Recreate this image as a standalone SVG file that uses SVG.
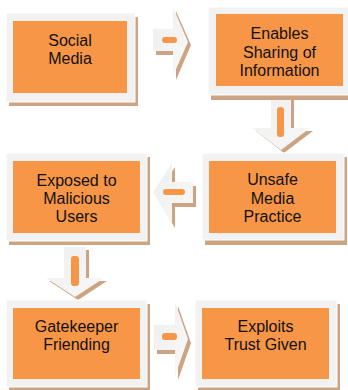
<svg xmlns="http://www.w3.org/2000/svg" width="348" height="390" viewBox="0 0 348 390">
  <style>
    .shadow { fill: #CDA483; }
    .frame { fill: #F2F2F2; stroke: #FFFFFF; stroke-width: 1; }
    .fill { fill: #F79646; }
    .label { font-family: "Liberation Sans", Arial, sans-serif; font-size: 16px; fill: #111111; text-anchor: middle; }
    .arrow { fill: url(#arrowShade); }
    .arrow-shadow { fill: #CDA483; }
    .dash { fill: #F79646; }
  </style>
  <defs>
    <linearGradient id="arrowShade" x1="0" y1="0" x2="1" y2="1">
      <stop offset="0" stop-color="#EEEEEE"/>
      <stop offset="1" stop-color="#F9F9F9"/>
    </linearGradient>
  </defs>
  <rect width="348" height="390" fill="#FFFFFF"/>

  <!-- connectors: block arrows with an orange centre stroke -->
  <g id="connectors">
    <!-- Social Media -> Enables Sharing -->
    <g id="arrow-1">
      <polygon class="arrow-shadow" points="156,33 176,33 176,11 191,45 176,80 176,55 156,55"/>
      <polygon class="arrow" points="153,29 173,29 173,7 188,42 173,76 173,51 153,51"/>
      <rect class="dash" x="162" y="37" width="15" height="6" rx="3"/>
    </g>
    <!-- Enables Sharing -> Unsafe Media Practice -->
    <g id="arrow-2">
      <polygon class="arrow-shadow" points="274,99 294,99 294,131 313,131 284,153 256,131 274,131"/>
      <polygon class="arrow" points="271,96 291,96 291,128 310,128 281,150 252,128 271,128"/>
      <rect class="dash" x="277" y="107" width="7" height="30" rx="3"/>
    </g>
    <!-- Unsafe Media Practice -> Exposed to Malicious Users -->
    <g id="arrow-3">
      <polygon class="arrow-shadow" points="196,186 175,186 175,167 156,196 175,228 175,207 196,207"/>
      <polygon class="arrow" points="193,182 172,182 172,163 153,192 172,224 172,203 193,203"/>
      <rect class="dash" x="163" y="189" width="22" height="6" rx="3"/>
    </g>
    <!-- Exposed to Malicious Users -> Gatekeeper Friending -->
    <g id="arrow-4">
      <polygon class="arrow-shadow" points="67,250 89,250 89,281 107,281 78,300 49,281 67,281"/>
      <polygon class="arrow" points="64,247 86,247 86,278 104,278 75,297 46,278 64,278"/>
      <rect class="dash" x="71" y="256" width="8" height="30" rx="3"/>
    </g>
    <!-- Gatekeeper Friending -> Exploits Trust Given -->
    <g id="arrow-5">
      <polygon class="arrow-shadow" points="157,329 178,329 178,306 191,343 178,380 178,354 157,354"/>
      <polygon class="arrow" points="154,325 175,325 175,302 188,339 175,376 175,350 154,350"/>
      <rect class="dash" x="162" y="333" width="15" height="7" rx="3"/>
    </g>
  </g>

  <!-- process steps -->
  <g id="node-social-media">
    <rect class="shadow" x="9" y="17" width="129" height="89"/>
    <rect class="frame" x="6" y="13" width="129" height="89"/>
    <rect class="fill" x="13" y="21" width="114" height="72"/>
    <text class="label" x="70" y="46">Social</text>
    <text class="label" x="70" y="64">Media</text>
  </g>

  <g id="node-enables-sharing">
    <rect class="shadow" x="211" y="11" width="143" height="89"/>
    <rect class="frame" x="208" y="7" width="143" height="88"/>
    <rect class="fill" x="216" y="14" width="127" height="72"/>
    <text class="label" x="279.5" y="39">Enables</text>
    <text class="label" x="279.5" y="57.5">Sharing of</text>
    <text class="label" x="279.5" y="76">Information</text>
  </g>

  <g id="node-exposed">
    <rect class="shadow" x="9" y="157" width="141" height="88"/>
    <rect class="frame" x="6" y="153" width="141" height="88"/>
    <rect class="fill" x="13" y="161" width="127" height="72"/>
    <text class="label" x="76.5" y="186">Exposed to</text>
    <text class="label" x="76.5" y="204">Malicious</text>
    <text class="label" x="76.5" y="222">Users</text>
  </g>

  <g id="node-unsafe-practice">
    <rect class="shadow" x="205" y="157" width="142" height="88"/>
    <rect class="frame" x="202" y="153" width="142" height="87"/>
    <rect class="fill" x="209" y="161" width="127" height="72"/>
    <text class="label" x="272.5" y="185">Unsafe</text>
    <text class="label" x="272.5" y="203.5">Media</text>
    <text class="label" x="272.5" y="222">Practice</text>
  </g>

  <g id="node-gatekeeper">
    <rect class="shadow" x="9" y="304" width="141" height="88"/>
    <rect class="frame" x="6" y="300" width="141" height="87"/>
    <rect class="fill" x="13" y="308" width="127" height="71"/>
    <text class="label" x="76.5" y="332">Gatekeeper</text>
    <text class="label" x="76.5" y="350">Friending</text>
  </g>

  <g id="node-exploits-trust">
    <rect class="shadow" x="198" y="304" width="142" height="88"/>
    <rect class="frame" x="195" y="300" width="142" height="87"/>
    <rect class="fill" x="202" y="308" width="127" height="71"/>
    <text class="label" x="265.5" y="332">Exploits</text>
    <text class="label" x="265.5" y="350">Trust Given</text>
  </g>
</svg>
